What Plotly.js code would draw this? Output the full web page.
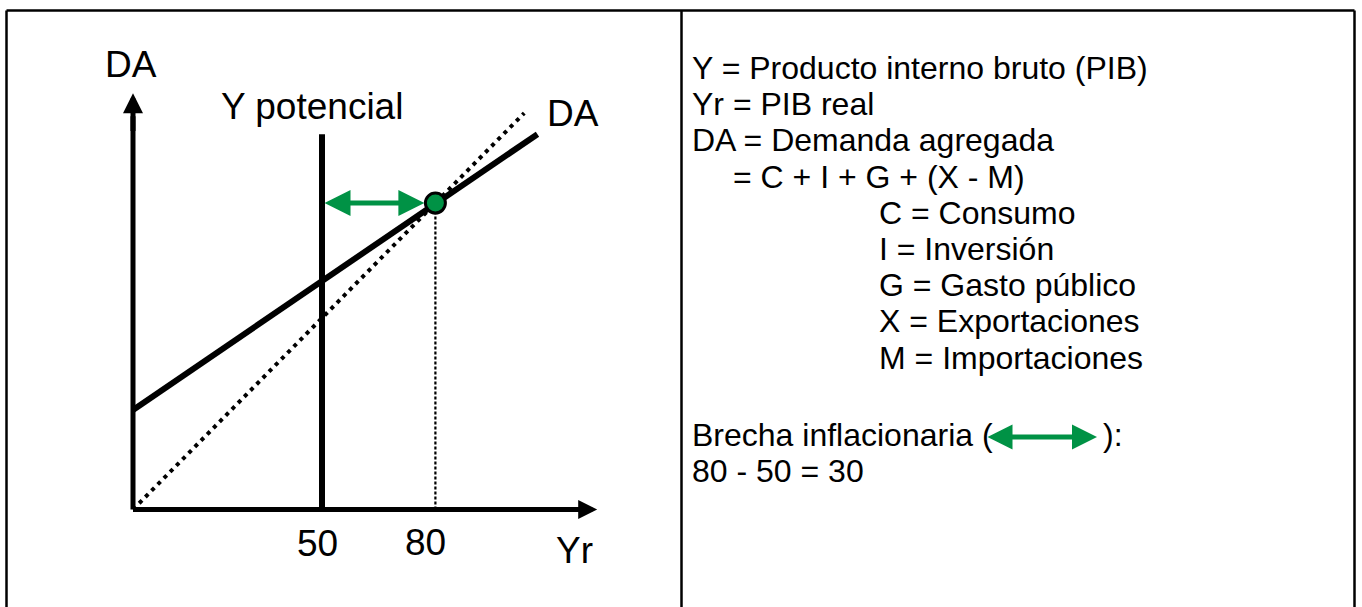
<!DOCTYPE html>
<html><head><meta charset="utf-8">
<script src="https://cdn.plot.ly/plotly-3.0.1.min.js"></script>
<style>html,body{margin:0;padding:0;background:#fff;}#chart{width:1362px;height:607px;}</style>
</head><body><div id="chart"></div>
<script>
// ---------- data ----------
const daX = [0, 107];          // aggregate demand line
const daY = [26, 98];
const refX = [0, 103.5];       // 45-degree line
const refY = [0, 103.5];
const potX = [50, 50];         // potential output
const potY = [0, 98];
const eqX = [80, 80];          // equilibrium drop line
const eqY = [0, 80];
const eqPointX = [80];
const eqPointY = [80];
const gapX = [50, 80];         // inflationary gap
const gapY = [80, 80];
const tickVals = [50, 80];
const tickText = ['50', '80'];
const axisMax = [122.8, 108.7];
const chartLabels = ['DA', 'Y potencial', 'DA', 'Yr'];
const noteLines = [
  'Y = Producto interno bruto (PIB)',
  'Yr = PIB real',
  'DA = Demanda agregada',
  '= C + I + G + (X - M)',
  'C = Consumo',
  'I = Inversión',
  'G = Gasto público',
  'X = Exportaciones',
  'M = Importaciones',
  'Brecha inflacionaria (',
  '):',
  '80 - 50 = 30'
];

// ---------- layout geometry ----------
const W = 1362, H = 607;
const X0PX = 133, SX = 3.78, Y0PX = 509.5, SY = 3.83;
const px = v => v / W;
const py = v => 1 - v / H;
const GREEN = 'rgb(0,146,69)';
const FONT = 'Liberation Sans, Arial, sans-serif';

const traces = [
  {x: [0, 0], y: [0, axisMax[1] - 6], mode: 'lines', line: {color: '#000', width: 5}},
  {x: [0, axisMax[0] - 6], y: [0, 0], mode: 'lines', line: {color: '#000', width: 5}},
  {x: refX, y: refY, mode: 'lines', line: {color: '#000', width: 4, dash: '4px,4.8px'}},
  {x: eqX, y: eqY, mode: 'lines', line: {color: '#000', width: 2.2, dash: '3px,2px'}},
  {x: potX, y: potY, mode: 'lines', line: {color: '#000', width: 6}},
  {x: daX, y: daY, mode: 'lines', line: {color: '#000', width: 6}},
  {x: eqPointX, y: eqPointY, mode: 'markers',
   marker: {color: GREEN, size: 20, line: {color: '#000', width: 3}}}
];

const ann = [];
// axis arrowheads
ann.push({xref: 'x', yref: 'y', axref: 'x', ayref: 'y', x: 0, y: axisMax[1], ax: 0, ay: axisMax[1] - 10,
  text: '', showarrow: true, arrowhead: 2, arrowwidth: 5, arrowsize: 0.8, arrowcolor: '#000', font: {size: 1}, borderpad: 0});
ann.push({xref: 'x', yref: 'y', axref: 'x', ayref: 'y', x: axisMax[0], y: 0, ax: axisMax[0] - 10, ay: 0,
  text: '', showarrow: true, arrowhead: 2, arrowwidth: 5, arrowsize: 0.76, arrowcolor: '#000', font: {size: 1}, borderpad: 0});
// gap arrow
ann.push({xref: 'x', yref: 'y', axref: 'x', ayref: 'y', x: gapX[1], y: gapY[1], ax: gapX[0], ay: gapY[0],
  text: '', showarrow: true, arrowhead: 2, startarrowhead: 2, arrowside: 'end+start',
  arrowwidth: 5, arrowsize: 1.04, startarrowsize: 1.04, standoff: 11, startstandoff: 2,
  arrowcolor: GREEN, font: {size: 1}, borderpad: 0});

// chart labels
const lblFont = {family: FONT, size: 37, color: '#000'};
const lblPos = [[131, 65], [311.5, 106.5], [572.5, 113], [574, 550]];
chartLabels.forEach((t, i) => ann.push({xref: 'paper', yref: 'paper', x: px(lblPos[i][0]), y: py(lblPos[i][1]),
  xanchor: 'center', yanchor: 'middle', text: t, showarrow: false, font: lblFont}));
const tickShift = [-4.5, -10], tickY = [543.5, 542];
tickVals.forEach((v, i) => ann.push({xref: 'x', yref: 'paper', x: v, xshift: tickShift[i], y: py(tickY[i]),
  xanchor: 'center', yanchor: 'middle', text: tickText[i], showarrow: false, font: lblFont}));

// notes panel
const noteFont = {family: FONT, size: 32, color: '#000'};
const notePos = [[690, 68], [690, 104], [690, 140], [731, 177], [877, 213], [877, 249], [877, 285], [877, 321], [877, 358],
  [690, 435], [1101, 435], [690, 471]];
noteLines.forEach((t, i) => ann.push({xref: 'paper', yref: 'paper', x: px(notePos[i][0]), y: py(notePos[i][1]),
  xanchor: 'left', yanchor: 'middle', text: t, showarrow: false, font: noteFont}));
// legend arrow
ann.push({xref: 'paper', yref: 'paper', axref: 'pixel', ayref: 'pixel', x: px(1097), y: py(437), ax: -110, ay: 0,
  text: '', showarrow: true, arrowhead: 2, startarrowhead: 2, arrowside: 'end+start',
  arrowwidth: 5, arrowsize: 1.0, startarrowsize: 1.0, standoff: 0, startstandoff: 0,
  arrowcolor: GREEN, font: {size: 1}, borderpad: 0});

const bw = 2.5;
const shapes = [
  {type: 'line', xref: 'paper', yref: 'paper', x0: px(6.5), x1: px(1354.5), y0: py(10.5), y1: py(10.5), line: {color: '#000', width: bw}},
  {type: 'line', xref: 'paper', yref: 'paper', x0: px(6.5), x1: px(6.5), y0: py(10.5), y1: py(620), line: {color: '#000', width: bw}},
  {type: 'line', xref: 'paper', yref: 'paper', x0: px(1354.5), x1: px(1354.5), y0: py(10.5), y1: py(620), line: {color: '#000', width: bw}},
  {type: 'line', xref: 'paper', yref: 'paper', x0: px(681.5), x1: px(681.5), y0: py(10.5), y1: py(620), line: {color: '#000', width: bw}}
];

const layout = {
  width: W, height: H, margin: {l: 0, r: 0, t: 0, b: 0},
  paper_bgcolor: '#fff', plot_bgcolor: '#fff', showlegend: false,
  xaxis: {range: [-X0PX / SX, (W - X0PX) / SX], visible: false, fixedrange: true},
  yaxis: {range: [-(H - Y0PX) / SY, Y0PX / SY], visible: false, fixedrange: true},
  annotations: ann, shapes: shapes
};
Plotly.newPlot('chart', traces, layout, {displayModeBar: false, staticPlot: true});
</script></body></html>
